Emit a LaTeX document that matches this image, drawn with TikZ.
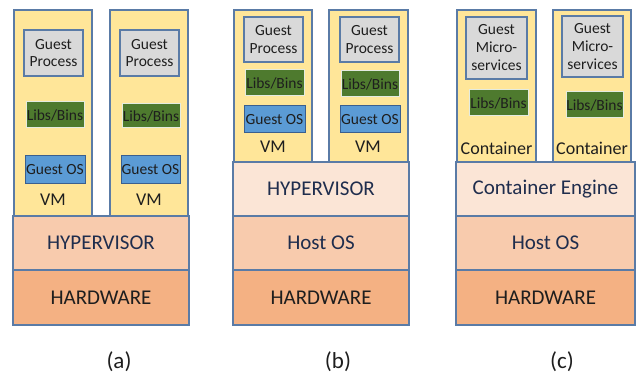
\documentclass[tikz,border=0pt]{standalone}
\usepackage{fontspec}
\setmainfont{Carlito}
\definecolor{vmfill}{HTML}{FFE699}
\definecolor{edge}{HTML}{5A7BA6}
\definecolor{gpfill}{HTML}{D9D9D9}
\definecolor{lbfill}{HTML}{4E7A2E}
\definecolor{osfill}{HTML}{5B9BD5}
\definecolor{osedge}{HTML}{3A5F8F}
\definecolor{hypa}{HTML}{F8CBAD}
\definecolor{hwfill}{HTML}{F4B183}
\definecolor{lightl}{HTML}{FBE5D6}
\definecolor{navy}{HTML}{1F2D4D}
\definecolor{ink}{HTML}{1E1E1E}
\tikzset{
  every node/.style={inner sep=0pt, outer sep=0pt},
  vmbox/.style={draw=edge, line width=1.3pt, fill=vmfill, anchor=north west},
  gpbox/.style={draw=edge, line width=1.1pt, fill=gpfill, anchor=north west},
  lbbox/.style={draw=white!85!lbfill, line width=1pt, fill=lbfill, anchor=north west},
  osbox/.style={draw=osedge, line width=1pt, fill=osfill, anchor=north west},
  layer/.style={draw=edge, line width=1.3pt, anchor=north west},
  small/.style={font=\fontsize{15.5}{17.5}\selectfont, text=ink, align=center},
  mid/.style={font=\fontsize{18}{20}\selectfont, text=ink},
  big/.style={font=\fontsize{21}{24}\selectfont, text=navy},
  captext/.style={font=\fontsize{23}{26}\selectfont, text=ink},
}
\begin{document}
\begin{tikzpicture}[x=1pt,y=-1pt]
\useasboundingbox (0,0) rectangle (636,374);
\fill[white] (0,0) rectangle (636,374);
% ---------- panel (a)
\node[vmbox, minimum width=78pt, minimum height=206pt] (avm1) at (14,10) {};
\node[vmbox, minimum width=78pt, minimum height=206pt] (avm2) at (110,10) {};
\node[gpbox, minimum width=59pt, minimum height=46pt] (agp1) at (24,30) {};
\node[small] at (agp1.center) {Guest\\Process};
\node[gpbox, minimum width=59pt, minimum height=46pt] (agp2) at (120,30) {};
\node[small] at (agp2.center) {Guest\\Process};
\node[lbbox, minimum width=58pt, minimum height=26pt] (alb1) at (26,102) {};
\node[small] at (alb1.center) {Libs/Bins};
\node[lbbox, minimum width=58pt, minimum height=24pt] (alb2) at (122,104) {};
\node[small] at (alb2.center) {Libs/Bins};
\node[osbox, minimum width=60pt, minimum height=27pt] (aos1) at (25,156) {};
\node[small] at (aos1.center) {Guest OS};
\node[osbox, minimum width=59pt, minimum height=27pt] (aos2) at (121,156) {};
\node[small] at (aos2.center) {Guest OS};
\node[mid] (avml1) at (53,200) {VM};
\node[mid] (avml2) at (149,200) {VM};
\node[layer, fill=hypa, minimum width=176pt, minimum height=54pt] (ahyp) at (13,216) {};
\node[big] at (ahyp.center) {HYPERVISOR};
\node[layer, fill=hwfill, minimum width=176pt, minimum height=55pt] (ahw) at (13,270) {};
\node[big, text=ink] at (ahw.center) {HARDWARE};
\node[captext] (capa) at (119,362) {(a)};
% ---------- panel (b)
\node[vmbox, minimum width=78pt, minimum height=152pt] (bvm1) at (234,10) {};
\node[vmbox, minimum width=79pt, minimum height=152pt] (bvm2) at (329,10) {};
\node[gpbox, minimum width=59pt, minimum height=45pt] (bgp1) at (244,17) {};
\node[small] at (bgp1.center) {Guest\\Process};
\node[gpbox, minimum width=59pt, minimum height=45pt] (bgp2) at (340,17) {};
\node[small] at (bgp2.center) {Guest\\Process};
\node[lbbox, minimum width=59pt, minimum height=26pt] (blb1) at (245,70) {};
\node[small] at (blb1.center) {Libs/Bins};
\node[lbbox, minimum width=58pt, minimum height=26pt] (blb2) at (341,71) {};
\node[small] at (blb2.center) {Libs/Bins};
\node[osbox, minimum width=61pt, minimum height=27pt] (bos1) at (244,106) {};
\node[small] at (bos1.center) {Guest OS};
\node[osbox, minimum width=60pt, minimum height=27pt] (bos2) at (340,106) {};
\node[small] at (bos2.center) {Guest OS};
\node[mid] (bvml1) at (273,147) {VM};
\node[mid] (bvml2) at (368,147) {VM};
\node[layer, fill=lightl, minimum width=176pt, minimum height=54pt] (bhyp) at (233,162) {};
\node[big] at (bhyp.center) {HYPERVISOR};
\node[layer, fill=hypa, minimum width=176pt, minimum height=54pt] (bhost) at (233,216) {};
\node[big] at (bhost.center) {Host OS};
\node[layer, fill=hwfill, minimum width=176pt, minimum height=55pt] (bhw) at (233,270) {};
\node[big, text=ink] at (bhw.center) {HARDWARE};
\node[captext] (capb) at (338,362) {(b)};
% ---------- panel (c)
\node[vmbox, minimum width=79pt, minimum height=152pt] (cc1) at (457,10) {};
\node[vmbox, minimum width=78pt, minimum height=152pt] (cc2) at (553,10) {};
\node[gpbox, minimum width=61pt, minimum height=62pt] (cgm1) at (466,17) {};
\node[small, font=\fontsize{15.5}{18}\selectfont] at (cgm1.center) {Guest\\Micro-\\services};
\node[gpbox, minimum width=61pt, minimum height=61pt] (cgm2) at (562,16) {};
\node[small, font=\fontsize{15.5}{18}\selectfont] at (cgm2.center) {Guest\\Micro-\\services};
\node[lbbox, minimum width=59pt, minimum height=26pt] (clb1) at (469,90) {};
\node[small] at (clb1.center) {Libs/Bins};
\node[lbbox, minimum width=57pt, minimum height=26pt] (clb2) at (566,92) {};
\node[small] at (clb2.center) {Libs/Bins};
\node[mid] (ccl1) at (496.5,148) {Container};
\node[mid] (ccl2) at (592,148) {Container};
\node[layer, fill=lightl, minimum width=179pt, minimum height=54pt] (ceng) at (456,162) {};
\node[big] at (ceng.center) {Container Engine};
\node[layer, fill=hypa, minimum width=179pt, minimum height=54pt] (chost) at (456,216) {};
\node[big] at (chost.center) {Host OS};
\node[layer, fill=hwfill, minimum width=179pt, minimum height=55pt] (chw) at (456,270) {};
\node[big, text=ink] at (chw.center) {HARDWARE};
\node[captext] (capc) at (562,362) {(c)};
\end{tikzpicture}
\end{document}
